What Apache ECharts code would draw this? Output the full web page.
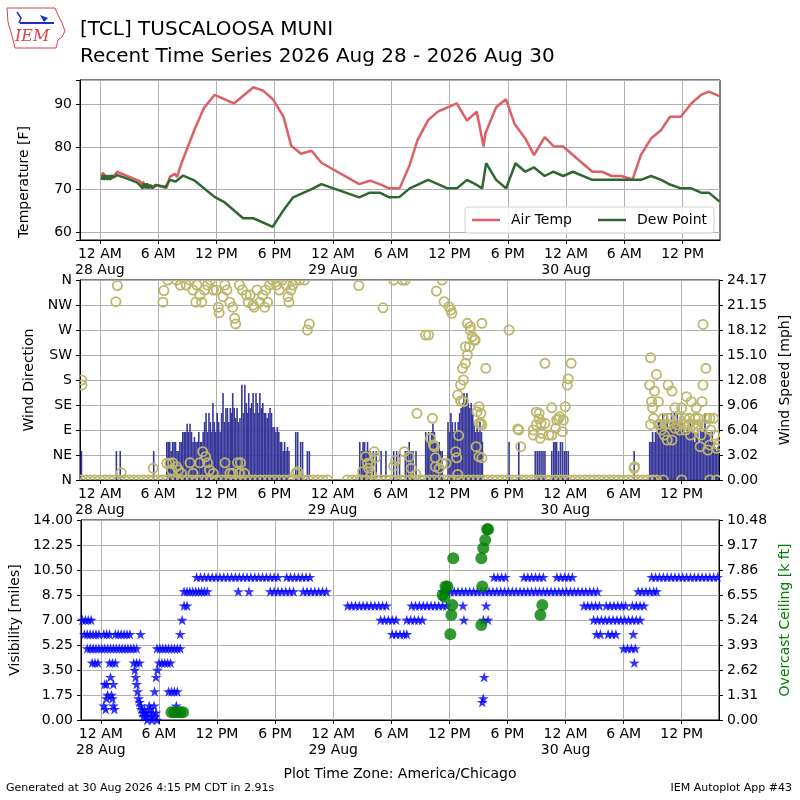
<!DOCTYPE html>
<html lang="en">
<head>
  <meta charset="UTF-8">
  <title>TCL Recent Time Series</title>
  <style>
    html, body { margin: 0; padding: 0; background: #fff; }
  </style>
</head>
<body>
  <div id="chart" style="width: 800px; height: 800px;"></div>
</body>

<script src="https://cdn.jsdelivr.net/npm/echarts@6.0.0/dist/echarts.min.js"></script>

<script>
  // all times are hours after 28 Aug 2026 00:00 America/Chicago
  const tickHours = [0, 6, 12, 18, 24, 30, 36, 42, 48, 54, 60];
  const hourNames = ['12 AM', '6 AM', '12 PM', '6 PM'];
  const dayLabels = ['28 Aug', '29 Aug', '30 Aug'];
  const dirLabels = ['N', 'NE', 'E', 'SE', 'S', 'SW', 'W', 'NW', 'N'];

  const airTemp = [
    [0.17, 73], [0.3, 74], [0.45, 74], [0.6, 73], [0.75, 73.4], [0.9, 72.6], [1.05, 73], [1.2, 72.6], [1.35, 73],
    [1.78, 74.2], [2.8, 73.2], [3.8, 72.3], [4.1, 72], [4.3, 71.1], [4.45, 71.9], [4.6, 70.5], [4.75, 71.1],
    [4.9, 70.5], [5.05, 71.1], [5.2, 70.5], [5.4, 70.5], [5.75, 71.1], [6.86, 70.4], [7.2, 73], [7.7, 73.7],
    [7.95, 73], [8.4, 76.2], [9.8, 84.4], [10.7, 89.1], [11.8, 92.2], [13.8, 90.2], [15.8, 94], [16.8, 93.2],
    [17.8, 91.2], [18.9, 87.1], [19.7, 80.3], [20.7, 78.4], [21.8, 79.1], [22.8, 76.3], [26.7, 71.3],
    [27.8, 72.1], [28.8, 71.3], [29.8, 70.3], [30.86, 70.3], [31.9, 75.8], [32.7, 81.6], [33.8, 86.3],
    [34.8, 88.3], [35.8, 89.3], [36.75, 90.2], [37.8, 86.2], [38.8, 88.3], [39.5, 80.1], [39.7, 83.2],
    [40.8, 89.3], [41.8, 91.2], [42.7, 85.4], [43.8, 82], [44.7, 78.1], [45.8, 82.3], [46.7, 80.2],
    [47.7, 80.1], [50.7, 74.2], [51.7, 74.2], [52.7, 73.2], [53.7, 73.2], [54.85, 72.4], [55.7, 78.1],
    [56.75, 82], [57.8, 84], [58.7, 87.1], [59.8, 87.1], [60.9, 90.2], [61.9, 92.2], [62.7, 93], [63.8, 91.9]
  ];

  const dewPoint = [
    [0.17, 72.3], [0.3, 73.4], [0.45, 72.3], [0.6, 73.4], [0.75, 72.3], [0.9, 73.4], [1.05, 72.3], [1.2, 73.4],
    [1.35, 72.8], [1.78, 73.4], [2.8, 72.6], [3.8, 71.7], [4.1, 71.1], [4.25, 71.5], [4.4, 70.3], [4.55, 71.5],
    [4.7, 70.3], [4.85, 71.5], [5.0, 70.3], [5.2, 71.1], [5.4, 70.3], [5.6, 70.3], [5.8, 71.1], [6.76, 70.6],
    [6.86, 70.3], [7.2, 72.3], [7.8, 71.9], [8.57, 73.3], [9.77, 72.1], [11.8, 68.3], [12.86, 67],
    [14.74, 63.3], [15.8, 63.3], [17.8, 61.3], [18.9, 65.2], [19.9, 68.2], [21.8, 70.1], [22.8, 71.3],
    [26.7, 68.2], [27.8, 69.3], [28.8, 69.3], [29.8, 68.2], [30.86, 68.3], [31.9, 70.3], [33.8, 72.3],
    [35.8, 70.3], [36.75, 70.3], [37.8, 72.3], [38.8, 71.1], [39.36, 70.3], [39.77, 76.2], [40.8, 72.3],
    [41.83, 70.3], [42.79, 76.2], [43.8, 74.2], [44.7, 75.2], [45.8, 73.2], [46.7, 74.2], [47.7, 73.2],
    [48.7, 74.2], [50.7, 72.3], [54.85, 72.3], [55.7, 72.3], [56.75, 73.2], [57.8, 72.3], [58.7, 71.2],
    [59.8, 70.3], [60.9, 70.3], [61.9, 69.3], [62.7, 69.3], [63.8, 67.2]
  ];

  const windSpeed = [
    [-1.9, 3.5], [1.7, 3.5], [2.1, 3.5], [5.55, 3.5],
    [6.9, 4.6], [7.05, 4.6], [7.2, 4.6], [7.35, 3.5], [7.5, 4.6], [7.65, 4.6], [7.8, 4.6], [7.95, 3.5],
    [8.1, 3.5], [8.25, 4.6], [8.4, 4.6], [8.55, 5.8], [8.7, 5.8], [8.85, 5.8], [9.0, 6.8], [9.15, 5.8],
    [9.3, 6.8], [9.45, 5.8], [9.6, 4.6], [9.75, 5.2], [9.9, 4.6], [10.05, 4.6], [10.2, 5.8], [10.35, 4.6],
    [10.5, 4.6], [10.65, 5.8], [10.8, 7.0], [10.95, 8.1], [11.1, 5.8], [11.25, 8.1], [11.4, 7.0], [11.55, 5.8],
    [11.66, 9.3], [11.8, 7.0], [11.95, 5.8], [12.1, 8.1], [12.25, 7.0], [12.4, 5.8], [12.55, 8.1], [12.7, 10.5],
    [12.85, 7.0], [13.0, 8.7], [13.15, 8.7], [13.3, 7.0], [13.45, 8.7], [13.6, 8.1], [13.7, 10.5], [13.85, 8.7],
    [14.0, 7.5], [14.15, 8.7], [14.3, 7.0], [14.45, 7.5], [14.64, 11.5], [14.8, 8.1], [14.95, 11.5], [15.1, 9.3],
    [15.25, 8.1], [15.35, 10.5], [15.5, 8.7], [15.65, 9.3], [15.8, 10.5], [15.95, 8.1], [16.1, 10.5], [16.25, 9.3],
    [16.4, 8.1], [16.5, 10.5], [16.65, 8.7], [16.8, 9.3], [16.95, 8.1], [17.1, 8.1], [17.25, 7.5], [17.4, 8.1],
    [17.55, 8.7], [17.7, 8.1], [17.85, 6.4], [18.0, 6.4], [18.15, 5.8], [18.3, 6.4], [18.45, 5.8], [18.6, 4.6],
    [18.75, 4.6], [18.9, 3.5], [19.05, 4.6], [19.2, 3.5], [19.35, 4.0], [19.5, 3.5], [20.2, 5.8], [20.4, 5.8],
    [20.7, 4.6], [20.9, 4.6], [21.4, 3.5], [21.6, 3.5],
    [26.8, 4.6], [27.0, 3.5], [27.15, 4.6], [27.3, 4.6], [27.45, 3.5], [27.6, 4.6], [27.75, 3.5], [27.9, 3.5],
    [28.2, 3.5], [28.5, 3.5], [29.0, 3.5], [29.5, 3.5],
    [30.3, 3.5], [30.6, 3.5], [30.9, 3.5], [31.5, 3.5], [31.7, 3.5], [31.9, 4.6], [32.1, 3.5], [32.3, 3.5],
    [32.6, 3.5], [33.6, 5.8], [33.75, 4.6], [33.9, 5.8], [34.05, 4.6], [34.2, 5.8], [34.35, 6.8], [34.5, 5.8],
    [34.65, 4.6], [34.8, 3.5], [35.0, 4.6], [35.15, 3.5], [35.3, 3.5],
    [35.9, 7.0], [36.05, 5.8], [36.2, 8.1], [36.35, 7.0], [36.5, 5.8], [36.65, 7.0], [36.8, 5.8], [36.95, 7.0],
    [37.1, 8.1], [37.25, 8.7], [37.4, 9.3], [37.55, 10.5], [37.7, 9.3], [37.85, 10.5], [38.0, 9.3], [38.15, 8.7],
    [38.3, 9.3], [38.45, 8.1], [38.6, 7.0], [38.75, 5.8], [38.9, 7.0], [39.05, 5.8], [39.2, 7.0], [39.35, 5.8],
    [39.45, 4.6], [42.2, 4.6], [43.2, 4.6],
    [44.9, 3.5], [45.1, 3.5], [45.3, 3.5], [45.5, 3.5], [45.7, 3.5], [45.9, 3.5],
    [46.6, 3.5], [46.8, 4.6], [46.95, 4.6], [47.1, 4.6], [47.3, 3.5], [47.5, 4.6], [47.7, 4.6], [47.9, 3.5],
    [48.1, 3.5], [48.3, 3.5], [55.1, 3.5],
    [56.7, 4.6], [56.85, 4.6], [57.0, 5.8], [57.15, 4.6], [57.3, 5.8], [57.45, 5.8], [57.6, 7.0], [57.75, 7.0],
    [57.9, 6.4], [58.05, 8.1], [58.2, 7.0], [58.35, 7.0], [58.5, 8.1], [58.65, 6.4], [58.8, 7.0], [58.95, 8.1],
    [59.1, 7.0], [59.25, 8.1], [59.4, 7.0], [59.55, 8.1], [59.7, 7.0], [59.85, 7.0], [60.0, 6.4], [60.15, 7.0],
    [60.3, 5.8], [60.45, 5.8], [60.6, 6.4], [60.75, 5.8], [60.9, 7.0], [61.05, 5.8], [61.2, 5.8], [61.35, 4.6],
    [61.5, 5.8], [61.65, 5.8], [61.8, 4.6], [61.95, 7.0], [62.1, 5.8], [62.25, 5.8], [62.4, 8.1], [62.55, 5.8],
    [62.7, 5.8], [62.85, 5.8], [63.0, 4.6], [63.15, 5.8], [63.3, 4.6], [63.45, 4.0], [63.6, 3.5], [63.75, 4.0]
  ];

  // wind direction [deg] when the wind was not calm
  const windDir = [
    [-1.9, 180], [-1.85, 171], [1.65, 321], [1.8, 350], [2.2, 13], [5.5, 21],
    [6.5, 320], [6.6, 341], [7.0, 360], [7.9, 360], [8.3, 351], [8.9, 351], [9.3, 360], [9.6, 342], [9.9, 320],
    [10.0, 351], [10.3, 333], [10.5, 320], [10.8, 342], [11.1, 351], [11.4, 360], [11.7, 342], [12.0, 342],
    [12.2, 311], [12.3, 301], [12.7, 330], [12.9, 351], [13.1, 342], [13.4, 320], [13.7, 311], [13.9, 291],
    [14.0, 281], [14.4, 351], [14.7, 342], [15.1, 333], [15.3, 320], [15.5, 333], [15.8, 315], [15.9, 311],
    [16.2, 342], [16.5, 320], [16.8, 333], [17.0, 311], [17.1, 342], [17.3, 320], [17.5, 351], [17.8, 360],
    [18.2, 351], [18.5, 342], [18.8, 360], [19.2, 351], [19.4, 330], [19.5, 320], [19.7, 342], [19.9, 351],
    [20.2, 360], [20.6, 360], [21.1, 360], [21.4, 270], [21.6, 281],
    [6.9, 30], [7.2, 30], [7.4, 18], [7.5, 31], [7.9, 24], [8.1, 18], [8.4, 12], [9.3, 31], [9.6, 12],
    [10.3, 31], [10.6, 51], [10.9, 42], [11.1, 31], [11.3, 18], [11.7, 12], [12.9, 31], [13.4, 12], [13.7, 12],
    [14.2, 31], [14.5, 31], [14.4, 12], [14.9, 12], [20.2, 12], [20.4, 15],
    [26.7, 350], [29.2, 310], [30.3, 360], [31.2, 360], [31.5, 360],
    [27.1, 15], [27.4, 42], [27.6, 30], [27.7, 21], [27.9, 30], [28.0, 10], [28.3, 51], [28.4, 40],
    [30.3, 25], [30.5, 35], [31.4, 51], [31.9, 42], [32.1, 21], [32.6, 10], [32.7, 120],
    [33.6, 261], [33.9, 261], [34.1, 75], [34.3, 111], [34.4, 63], [34.5, 60], [34.6, 40], [34.6, 24],
    [34.7, 340], [35.0, 21], [35.3, 360], [35.3, 30], [35.5, 321], [35.7, 30], [36.0, 312], [36.2, 306],
    [36.3, 300], [36.7, 51], [36.8, 40], [36.9, 10], [36.9, 153], [37.0, 80], [37.2, 142], [37.2, 171],
    [37.4, 201], [37.5, 180], [37.5, 141], [37.7, 210], [37.7, 240], [37.9, 225], [37.9, 282], [38.1, 240],
    [38.2, 276], [38.2, 270], [38.4, 258], [38.6, 252], [38.7, 252], [38.8, 60], [38.9, 123], [39.1, 132],
    [39.1, 102], [39.1, 42], [39.3, 120], [39.3, 102], [39.4, 99], [39.4, 282], [39.4, 40], [39.8, 201],
    [42.2, 270], [43.1, 92], [43.2, 90], [43.4, 60],
    [44.7, 81], [44.7, 90], [45.0, 122], [45.0, 99], [45.3, 110], [45.3, 120], [45.4, 75], [45.5, 102],
    [45.6, 84], [45.9, 102], [45.9, 210], [46.3, 81], [46.6, 130], [46.6, 81], [47.0, 93], [47.1, 108],
    [47.3, 110], [47.4, 114], [47.7, 87], [47.8, 108], [48.0, 132], [48.2, 171], [48.3, 182], [48.6, 210],
    [55.1, 21], [55.15, 24],
    [56.7, 171], [56.8, 220], [56.8, 100], [56.9, 141], [57.0, 130], [57.1, 111], [57.2, 160], [57.4, 190],
    [57.6, 141], [57.6, 100], [57.8, 100], [57.9, 90], [58.1, 111], [58.2, 81], [58.3, 100], [58.5, 72],
    [58.6, 171], [58.6, 111], [58.8, 100], [59.0, 160], [59.0, 72], [59.3, 130], [59.3, 93], [59.5, 100],
    [59.7, 111], [59.8, 90], [60.0, 130], [60.2, 100], [60.3, 111], [60.4, 90], [60.5, 150], [60.7, 100],
    [60.8, 111], [60.9, 81], [61.0, 141], [61.2, 100], [61.4, 111], [61.4, 93], [61.5, 130], [61.7, 100],
    [61.7, 111], [61.9, 60], [62.0, 81], [62.1, 141], [62.2, 171], [62.2, 280], [62.4, 100], [62.5, 201],
    [62.6, 111], [62.7, 54], [62.9, 111], [62.9, 63], [63.0, 90], [63.3, 111], [63.4, 81], [63.6, 57],
    [63.8, 63]
  ];

  // calm observations, plotted as direction 0
  const calmHours = [
    -2.0, -1.5, -1.0, -0.5, 0, 0.5, 1, 1.5, 2, 2.5, 3, 3.5, 4, 4.5, 5, 5.5, 6, 6.5, 7, 7.5, 8, 8.5, 9, 9.5,
    10, 10.5, 11, 11.5, 12, 12.5, 13, 13.5, 14, 14.5, 15, 15.5, 16, 16.5, 17, 17.5, 18, 18.5, 19, 19.5,
    20, 20.5, 21, 21.5, 22, 22.5, 23, 23.5,
    25.5, 26, 26.5, 27, 27.5, 28, 28.5, 29, 29.5, 30, 30.5, 31, 31.5, 32, 32.5, 33, 33.5, 34, 34.5, 35,
    35.5, 36, 36.5, 37, 37.5, 38, 38.5, 39, 39.5, 40, 40.5, 41, 41.5, 42, 42.5, 43, 43.5, 44, 44.5, 45,
    45.5, 46, 46.5, 47, 47.5, 48, 48.5, 49, 49.5, 50, 50.5, 51, 51.5, 52, 52.5, 53, 53.5, 54, 54.5, 55,
    55.5, 56, 56.5, 57, 57.4, 58.1, 60.0, 62.9, 63.6
  ];

  const visibility = [
    [-1.9, 7], [-1.6, 7], [-1.3, 7], [-1.0, 7],
    [-1.7, 6], [-1.4, 6], [-1.1, 6], [-0.8, 6], [-0.5, 6], [-0.2, 6], [0.3, 6], [0.6, 6], [0.9, 6], [1.5, 6],
    [1.8, 6], [2.1, 6], [2.4, 6], [2.7, 6], [3.0, 6], [4.1, 6],
    [-1.4, 5], [-1.1, 5], [-0.8, 5], [-0.5, 5], [-0.2, 5], [0.1, 5], [0.4, 5], [0.7, 5], [1.0, 5], [1.3, 5],
    [1.6, 5], [1.9, 5], [2.2, 5], [2.5, 5], [2.8, 5], [3.1, 5], [3.4, 5], [3.7, 5],
    [-0.9, 4], [-0.6, 4], [-0.3, 4], [0.9, 4], [1.2, 4], [1.5, 4], [3.4, 4], [3.7, 4], [4.0, 4],
    [0.4, 2.5], [0.6, 2.5], [1.0, 3], [1.3, 2.5], [0.7, 1.75], [1.1, 1.75], [0.6, 1.5], [1.2, 1.5],
    [0.3, 1], [0.5, 0.75], [1.3, 1], [1.4, 0.75],
    [3.5, 3.5], [3.6, 3], [3.7, 2.5], [3.8, 2], [3.9, 1.5], [4.0, 1.25], [4.1, 1], [4.2, 0.75], [4.3, 0.5],
    [4.4, 0.25], [4.5, 0.75], [4.6, 0.5], [4.7, 0.25], [4.8, 0], [4.9, 0.5], [5.0, 1], [5.1, 0.75],
    [5.2, 0.25], [5.3, 0], [5.4, 0.5], [5.5, 1], [5.6, 0.25], [5.7, 0.5], [5.8, 0],
    [5.55, 2], [5.7, 3], [5.85, 3.5], [6.0, 4], [6.3, 4], [6.6, 4], [6.9, 4], [7.2, 4],
    [5.8, 5], [6.1, 5], [6.4, 5], [6.7, 5], [7.0, 5], [7.3, 5], [7.6, 5], [7.9, 5], [8.2, 5],
    [7.0, 2], [7.3, 2], [7.6, 2], [7.9, 2], [7.8, 1],
    [8.2, 6], [8.4, 7], [8.6, 8], [8.9, 8],
    [8.6, 9], [8.9, 9], [9.2, 9], [9.5, 9], [9.8, 9], [10.1, 9], [10.4, 9], [10.7, 9], [11.0, 9],
    [9.9, 10], [10.3, 10], [10.7, 10], [11.1, 10], [11.5, 10], [11.9, 10], [12.3, 10], [12.7, 10], [13.1, 10],
    [13.5, 10], [13.9, 10], [14.3, 10], [14.7, 10], [15.1, 10], [15.5, 10], [15.9, 10], [16.3, 10], [16.7, 10],
    [17.1, 10], [17.5, 10], [17.9, 10], [18.3, 10],
    [14.2, 9], [15.3, 9],
    [17.5, 9], [17.9, 9], [18.3, 9], [18.7, 9], [19.1, 9], [19.5, 9], [19.9, 9],
    [19.2, 10], [19.6, 10], [20.0, 10], [20.4, 10], [20.8, 10], [21.2, 10], [21.6, 10],
    [20.9, 9], [21.3, 9], [21.7, 9], [22.1, 9], [22.5, 9], [22.9, 9], [23.3, 9],
    [25.5, 8], [25.9, 8], [26.3, 8], [26.7, 8], [27.1, 8], [27.5, 8], [27.9, 8], [28.3, 8], [28.7, 8],
    [29.1, 8], [29.5, 8],
    [28.9, 7], [29.3, 7], [29.7, 7], [30.1, 7], [30.5, 7], [31.6, 7], [32.0, 7], [32.4, 7], [32.8, 7], [33.2, 7],
    [30.1, 6], [30.5, 6], [30.9, 6], [31.3, 6], [31.6, 6],
    [32.1, 8], [32.5, 8], [32.9, 8], [33.3, 8], [33.7, 8], [34.1, 8], [34.5, 8], [34.9, 8], [35.3, 8], [35.7, 8],
    [35.3, 9], [35.7, 9], [36.1, 9], [36.5, 9], [36.9, 9], [37.3, 9], [37.7, 9], [38.1, 9], [38.5, 9], [38.9, 9],
    [39.3, 9], [39.7, 9], [40.1, 9], [40.5, 9], [40.9, 9], [41.3, 9], [41.7, 9], [42.1, 9], [42.5, 9], [42.9, 9],
    [43.3, 9], [43.7, 9], [44.1, 9], [44.5, 9], [44.9, 9], [45.3, 9], [45.7, 9], [46.1, 9], [46.5, 9], [46.9, 9],
    [47.3, 9], [47.7, 9], [48.1, 9], [48.5, 9], [48.9, 9], [49.3, 9], [49.7, 9], [50.1, 9], [50.5, 9], [50.9, 9],
    [51.3, 9],
    [37.4, 8], [37.5, 7], [39.8, 8], [39.5, 7], [40.0, 7], [39.6, 3], [39.4, 1.25], [39.5, 1.5],
    [40.6, 10], [41.0, 10], [41.4, 10], [41.8, 10],
    [43.7, 10], [44.1, 10], [44.5, 10], [44.9, 10], [45.3, 10], [45.7, 10],
    [47.1, 10], [47.5, 10], [47.9, 10], [48.3, 10], [48.7, 10],
    [49.9, 8], [50.3, 8], [50.7, 8], [51.1, 8], [51.5, 8],
    [52.2, 8], [52.6, 8], [53.0, 8], [53.4, 8], [53.8, 8], [54.2, 8], [54.9, 8], [55.3, 8], [55.7, 8], [56.1, 8],
    [50.9, 7], [51.3, 7], [51.7, 7], [52.1, 7], [52.5, 7], [52.9, 7], [53.3, 7], [53.7, 7], [54.1, 7],
    [54.5, 7], [54.9, 7], [55.3, 7], [55.7, 7],
    [51.2, 6], [51.6, 6], [52.4, 6], [52.8, 6], [53.2, 6], [55.0, 6],
    [54.0, 5], [54.4, 5], [54.8, 5], [55.2, 5], [55.1, 4],
    [55.5, 9], [55.9, 9], [56.3, 9], [56.7, 9], [57.1, 9], [57.4, 9],
    [56.9, 10], [57.3, 10], [57.7, 10], [58.1, 10], [58.5, 10], [58.9, 10], [59.3, 10], [59.7, 10], [60.1, 10],
    [60.5, 10], [60.9, 10], [61.3, 10], [61.7, 10], [62.1, 10], [62.5, 10], [62.9, 10], [63.3, 10], [63.7, 10]
  ];

  // overcast ceiling [k ft]
  const ceiling = [
    [7.3, 0.4], [7.6, 0.4], [7.9, 0.4], [8.2, 0.4], [8.5, 0.4],
    [35.3, 6.55], [35.5, 6.46], [35.6, 6.99], [35.8, 6.99], [36.1, 4.49], [36.2, 5.5], [36.3, 6.03],
    [36.4, 8.47], [39.3, 8.47], [39.3, 4.98], [39.4, 6.99], [39.5, 9.0], [39.7, 9.43], [39.9, 10.0],
    [40.0, 10.0], [45.4, 5.5], [45.6, 6.03]
  ];

  const FONT = 'DejaVu Sans';
  const X_MIN = -2.05, X_MAX = 63.85;
  const GRID_COLOR = '#b0b0b0';
  const STAR = 'path://M0,-10L2.23,-3.07L9.51,-3.09L3.61,1.17L5.88,8.09L0,3.8L-5.88,8.09L-3.61,1.17L-9.51,-3.09L-2.23,-3.07Z';

  function hourLabel(h) {
    const hh = ((Math.round(h) % 24) + 24) % 24;
    if (hh === 0) return '12 AM\n' + dayLabels[Math.round(h) / 24];
    return hourNames[hh / 6];
  }

  function timeAxis(i) {
    return {
      type: 'value', gridIndex: i, min: X_MIN, max: X_MAX,
      axisLine: { show: true, onZero: false, lineStyle: { color: '#000', width: 1 } },
      axisTick: { show: true, customValues: tickHours, length: 4, lineStyle: { color: '#000' } },
      axisLabel: {
        customValues: tickHours, formatter: hourLabel, color: '#000',
        fontSize: 14, lineHeight: 16, margin: 6, fontFamily: FONT
      },
      splitLine: { show: true, lineStyle: { color: GRID_COLOR, width: 1 } }
    };
  }

  function valueAxis(extra) {
    return Object.assign({
      type: 'value',
      nameLocation: 'middle', nameRotate: 90,
      nameTextStyle: { fontSize: 14, color: '#000', fontFamily: FONT },
      axisLine: { show: true, onZero: false, lineStyle: { color: '#000', width: 1 } },
      axisTick: { show: true, length: 4, lineStyle: { color: '#000' } },
      axisLabel: { color: '#000', fontSize: 14, margin: 8, fontFamily: FONT },
      splitLine: { show: true, lineStyle: { color: GRID_COLOR, width: 1 } }
    }, extra);
  }

  const chart = echarts.init(document.getElementById('chart'));

  const option = {
    animation: false,
    backgroundColor: '#fff',
    textStyle: { fontFamily: FONT },
    title: {
      text: '[TCL] TUSCALOOSA MUNI\nRecent Time Series 2026 Aug 28 - 2026 Aug 30',
      left: 80, top: 16, padding: 0,
      textStyle: { fontSize: 20, fontWeight: 'normal', lineHeight: 27, color: '#000', fontFamily: FONT }
    },
    legend: {
      data: ['Air Temp', 'Dew Point'],
      left: 465, top: 207,
      icon: 'rect', itemWidth: 28, itemHeight: 2.5, itemGap: 26,
      padding: [6, 7],
      borderColor: '#d0d0d0', borderWidth: 1, borderRadius: 3,
      backgroundColor: 'rgba(255,255,255,0.85)',
      textStyle: { fontSize: 14, color: '#000', fontFamily: FONT, padding: [0, 0, 0, 6] }
    },
    grid: [
      { left: 80, right: 80, top: 80, height: 160, show: true, borderColor: '#000', borderWidth: 1 },
      { left: 80, right: 80, top: 280, height: 200, show: true, borderColor: '#000', borderWidth: 1 },
      { left: 80, right: 80, top: 520, height: 200, show: true, borderColor: '#000', borderWidth: 1 }
    ],
    xAxis: [timeAxis(0), timeAxis(1), timeAxis(2)],
    yAxis: [
      valueAxis({
        gridIndex: 0, min: 58.2, max: 95.7, splitNumber: 4,
        name: 'Temperature [F]', nameGap: 49,
        nameTextStyle: { fontSize: 14, color: '#000', fontFamily: FONT, padding: [0, 44, 0, 0] },
        axisLabel: {
          color: '#000', fontSize: 14, margin: 8, fontFamily: FONT,
          formatter: v => (Math.abs(v % 10) < 1e-6 ? String(v) : '')
        }
      }),
      valueAxis({
        gridIndex: 1, min: 0, max: 360, interval: 45,
        name: 'Wind Direction', nameGap: 40,
        axisLabel: {
          color: '#000', fontSize: 14, margin: 8, fontFamily: FONT,
          formatter: v => dirLabels[Math.round(v / 45)]
        }
      }),
      valueAxis({
        gridIndex: 1, position: 'right', min: 0, max: 24.166, interval: 3.02075,
        name: 'Wind Speed [mph]', nameGap: 54,
        splitLine: { show: false },
        axisLabel: { color: '#000', fontSize: 14, margin: 8, fontFamily: FONT, formatter: v => v.toFixed(2) }
      }),
      valueAxis({
        gridIndex: 2, min: 0, max: 14, interval: 1.75,
        name: 'Visibility [miles]', nameGap: 55,
        axisLabel: { color: '#000', fontSize: 14, margin: 8, fontFamily: FONT, formatter: v => v.toFixed(2) }
      }),
      valueAxis({
        gridIndex: 2, position: 'right', min: 0, max: 10.48, interval: 1.31,
        name: 'Overcast Ceiling [k ft]', nameGap: 54,
        nameTextStyle: { fontSize: 14, color: '#008000', fontFamily: FONT },
        splitLine: { show: false },
        axisLabel: { color: '#000', fontSize: 14, margin: 8, fontFamily: FONT, formatter: v => v.toFixed(2) }
      })
    ],
    series: [
      {
        name: 'Air Temp', type: 'line', xAxisIndex: 0, yAxisIndex: 0,
        data: airTemp, symbol: 'none', z: 3,
        lineStyle: { color: '#dd5f66', width: 2.5 }, itemStyle: { color: '#dd5f66' }
      },
      {
        name: 'Dew Point', type: 'line', xAxisIndex: 0, yAxisIndex: 0,
        data: dewPoint, symbol: 'none', z: 4,
        lineStyle: { color: '#2e6830', width: 2.5 }, itemStyle: { color: '#2e6830' }
      },
      {
        name: 'Wind Speed', type: 'bar', xAxisIndex: 1, yAxisIndex: 2,
        data: windSpeed, barWidth: 1.6, z: 2,
        itemStyle: { color: '#38389a' }
      },
      {
        name: 'Wind Direction', type: 'custom', xAxisIndex: 1, yAxisIndex: 1,
        clip: true, z: 3,
        data: windDir.concat(calmHours.map(h => [h, 0])),
        encode: { x: 0, y: 1 },
        renderItem: function (params, api) {
          const p = api.coord([api.value(0), api.value(1)]);
          return {
            type: 'circle',
            shape: { cx: p[0], cy: p[1], r: 4.6 },
            style: { fill: 'none', stroke: '#bdb76b', lineWidth: 1.8 }
          };
        }
      },
      {
        name: 'Visibility', type: 'scatter', xAxisIndex: 2, yAxisIndex: 3,
        data: visibility, symbol: STAR, symbolSize: 11, symbolKeepAspect: true, z: 3,
        itemStyle: { color: '#0000ff' }
      },
      {
        name: 'Overcast Ceiling', type: 'scatter', xAxisIndex: 2, yAxisIndex: 4,
        data: ceiling, symbol: 'circle', symbolSize: 12, z: 4,
        itemStyle: { color: '#008000' }
      }
    ],
    graphic: [
      {
        type: 'polyline', z: 10,
        shape: { points: [[7, 8], [55, 8], [58, 15], [62, 23], [65, 31], [62, 37], [58, 40], [56, 48], [15, 48], [12, 36], [8, 22], [7, 8]] },
        style: { fill: 'none', stroke: '#e04040', lineWidth: 1 }
      },
      {
        type: 'polyline', z: 10,
        shape: { points: [[20, 23], [54, 23]] },
        style: { stroke: '#1a2fd0', lineWidth: 2 }
      },
      {
        type: 'polyline', z: 10,
        shape: { points: [[17, 12], [21, 18], [19, 23]] },
        style: { fill: 'none', stroke: '#1a2fd0', lineWidth: 1.5 }
      },
      {
        type: 'polygon', z: 10,
        shape: { points: [[40, 15], [48, 18], [44, 22]] },
        style: { fill: '#1a2fd0' }
      },
      {
        type: 'text', left: 15, top: 29, z: 10,
        style: { text: 'IEM', font: 'italic 16px "DejaVu Serif"', fill: '#e04040' }
      },
      {
        type: 'text', left: 'center', top: 767,
        style: { text: 'Plot Time Zone: America/Chicago', font: '14px "DejaVu Sans"', fill: '#000' }
      },
      {
        type: 'text', left: 6, top: 783,
        style: { text: 'Generated at 30 Aug 2026 4:15 PM CDT in 2.91s', font: '11px "DejaVu Sans"', fill: '#000' }
      },
      {
        type: 'text', right: 8, top: 783,
        style: { text: 'IEM Autoplot App #43', font: '11px "DejaVu Sans"', fill: '#000' }
      }
    ]
  };

  chart.setOption(option);
</script>

</html>
